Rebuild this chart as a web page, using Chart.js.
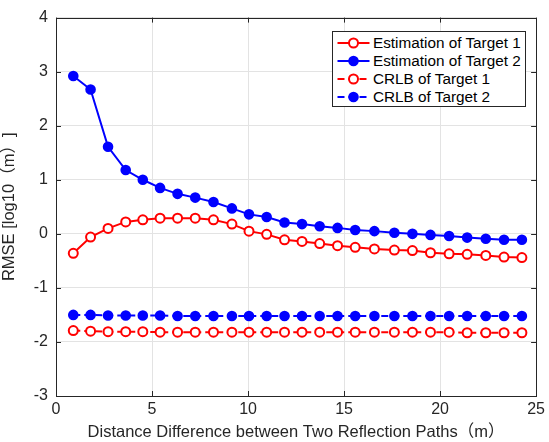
<!DOCTYPE html>
<html>
<head>
<meta charset="utf-8">
<script src="https://cdn.jsdelivr.net/npm/chart.js@4/dist/chart.umd.min.js"></script>
<style>
  html, body { margin: 0; padding: 0; background: #fff; }
  #wrap { position: relative; width: 549px; height: 442px; }
  #legend { position: absolute; left: 332px; top: 31px; width: 192px; height: 74px;
    border: 1px solid #262626; background: #fff; font-family: "Liberation Sans", Arial, sans-serif;
    font-size: 15.3px; color: #000; box-sizing: content-box; }
  .row { position: absolute; left: 0; height: 18px; width: 192px; }
  .row svg { position: absolute; left: 0; top: 0; }
  .row span { position: absolute; left: 40px; top: 0; line-height: 18px; white-space: nowrap; }
</style>
</head>
<body>
<div id="wrap">
  <canvas id="c" width="549" height="442"></canvas>
  <div id="legend"></div>
</div>
<script>
// ---- data ----
const xValues = [0.90, 1.80, 2.71, 3.63, 4.52, 5.42, 6.33, 7.25, 8.20, 9.16, 10.05, 10.97, 11.90,
                 12.81, 13.73, 14.66, 15.58, 16.58, 17.62, 18.56, 19.50, 20.47, 21.41, 22.38, 23.33, 24.26];
const estTarget1 = [-0.36, -0.06, 0.10, 0.22, 0.26, 0.29, 0.29, 0.29, 0.26, 0.18, 0.05, -0.01, -0.11,
                    -0.14, -0.18, -0.22, -0.25, -0.28, -0.30, -0.31, -0.35, -0.37, -0.38, -0.40, -0.43, -0.44];
const estTarget2 = [2.92, 2.67, 1.61, 1.18, 1.00, 0.85, 0.74, 0.67, 0.59, 0.47, 0.36, 0.31, 0.21,
                    0.18, 0.14, 0.11, 0.07, 0.05, 0.02, 0.00, -0.02, -0.04, -0.07, -0.09, -0.11, -0.11];
const crlbTarget1 = [-1.79, -1.80, -1.81, -1.81, -1.81, -1.82, -1.82, -1.82, -1.82, -1.82, -1.82, -1.82, -1.82,
                     -1.82, -1.82, -1.82, -1.82, -1.82, -1.82, -1.82, -1.82, -1.82, -1.83, -1.83, -1.83, -1.83];
const crlbTarget2 = [-1.50, -1.50, -1.51, -1.51, -1.51, -1.51, -1.52, -1.52, -1.52, -1.52, -1.52, -1.52, -1.52,
                     -1.52, -1.52, -1.52, -1.52, -1.52, -1.52, -1.52, -1.52, -1.52, -1.52, -1.52, -1.52, -1.52];
const seriesNames = ["Estimation of Target 1", "Estimation of Target 2", "CRLB of Target 1", "CRLB of Target 2"];
const xTitle = "Distance Difference between Two Reflection Paths（m）";
const yTitle = "RMSE [log10（m）]";
const xTicks = [0, 5, 10, 15, 20, 25];
const yTicks = [-3, -2, -1, 0, 1, 2, 3, 4];

const FONT = '"Liberation Sans", Arial, "Noto Sans CJK SC", sans-serif';
const RED = '#ff0000', BLUE = '#0000ff', AX = '#262626';

function pts(ys) { return xValues.map((x, i) => ({ x: x, y: ys[i] })); }

const styles = [
  { color: RED, fill: '#ffffff', dash: [] , radius: 4.5 },
  { color: BLUE, fill: BLUE, dash: [], radius: 4.3 },
  { color: RED, fill: '#ffffff', dash: [7, 4], radius: 4.5 },
  { color: BLUE, fill: BLUE, dash: [7, 4], radius: 4.3 }
];
const allSeries = [estTarget1, estTarget2, crlbTarget1, crlbTarget2];

const datasets = allSeries.map((s, i) => ({
  label: seriesNames[i],
  data: pts(s),
  borderColor: styles[i].color,
  backgroundColor: styles[i].fill,
  borderWidth: 2,
  borderDash: styles[i].dash,
  pointRadius: styles[i].radius,
  pointBorderWidth: 2,
  pointBackgroundColor: styles[i].fill,
  pointBorderColor: styles[i].color,
  tension: 0,
  clip: false
}));

const boxPlugin = {
  id: 'boxTicks',
  afterDatasetsDraw(chart) {
    const ctx = chart.ctx, a = chart.chartArea;
    const xs = chart.scales.x, ys = chart.scales.y;
    ctx.save();
    ctx.strokeStyle = AX; ctx.lineWidth = 1;
    const L = 5;
    ctx.beginPath();
    xTicks.forEach(v => {
      const p = Math.round(xs.getPixelForValue(v)) + 0.5;
      ctx.moveTo(p, a.bottom); ctx.lineTo(p, a.bottom - L);
      ctx.moveTo(p, a.top); ctx.lineTo(p, a.top + L);
    });
    yTicks.forEach(v => {
      const p = Math.round(ys.getPixelForValue(v)) + 0.5;
      ctx.moveTo(a.left, p); ctx.lineTo(a.left + L, p);
      ctx.moveTo(a.right, p); ctx.lineTo(a.right - L, p);
    });
    ctx.stroke();
    ctx.strokeRect(Math.round(a.left) + 0.5, Math.round(a.top) + 0.5,
                   Math.round(a.right - a.left), Math.round(a.bottom - a.top));
    ctx.restore();
  }
};

new Chart(document.getElementById('c'), {
  type: 'line',
  data: { datasets: datasets },
  options: {
    responsive: false,
    animation: false,
    layout: { padding: { top: 17, right: 10, left: 0, bottom: 0 } },
    plugins: { legend: { display: false }, tooltip: { enabled: false } },
    scales: {
      x: {
        type: 'linear', min: 0, max: 25,
        afterBuildTicks(s) { s.ticks = xTicks.map(v => ({ value: v })); },
        afterFit(s) { s.height = 46; },
        grid: { color: '#e3e3e3', lineWidth: 1, drawTicks: false },
        border: { display: false },
        ticks: { color: AX, font: { family: FONT, size: 16 }, padding: 4, maxRotation: 0 },
        title: { display: true, text: xTitle, color: AX, font: { family: FONT, size: 16.5 }, padding: { top: 0, bottom: 0 } }
      },
      y: {
        type: 'linear', min: -3, max: 4,
        afterBuildTicks(s) { s.ticks = yTicks.map(v => ({ value: v })); },
        afterFit(s) { s.width = 56; },
        grid: { color: '#e3e3e3', lineWidth: 1, drawTicks: false },
        border: { display: false },
        ticks: { color: AX, font: { family: FONT, size: 16 }, padding: 8 },
        title: { display: true, text: yTitle, color: AX, font: { family: FONT, size: 16.5 }, padding: { top: 0, bottom: 2 } }
      }
    }
  },
  plugins: [boxPlugin]
});

// ---- legend (HTML) ----
const legend = document.getElementById('legend');
seriesNames.forEach((name, i) => {
  const st = styles[i];
  const row = document.createElement('div');
  row.className = 'row';
  row.style.top = (1.5 + i * 18) + 'px';
  const dash = st.dash.length ? ' stroke-dasharray="7,4"' : '';
  row.innerHTML =
    '<svg width="40" height="18"><line x1="4.5" y1="9" x2="36.5" y2="9" stroke="' + st.color +
    '" stroke-width="2"' + dash + '/><circle cx="20.5" cy="9" r="' + st.radius + '" fill="' + st.fill +
    '" stroke="' + st.color + '" stroke-width="2"/></svg><span>' + name + '</span>';
  legend.appendChild(row);
});
</script>
</body>
</html>
